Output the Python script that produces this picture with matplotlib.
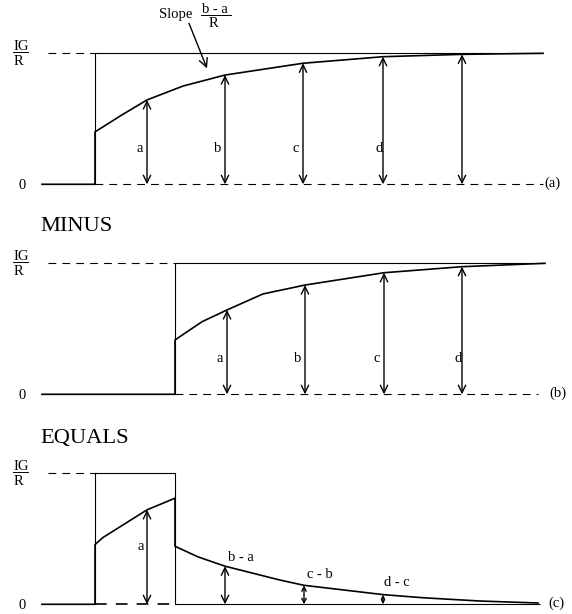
import matplotlib
matplotlib.use("Agg")
import matplotlib.pyplot as plt
from matplotlib.lines import Line2D

plt.rcParams['font.family'] = ['Liberation Serif', 'DejaVu Serif']

W, H, DPI = 572, 614, 100

# ---------------------------------------------------------------- data
# time axis (arbitrary units), shared by the three panels
T_END = 50.1
STEP_A = 5.3      # switch-on of the first response
STEP_B = 13.3     # switch-on of the delayed response
T_TOP_DASH = 0.6  # where the dashed IG/R guide starts

# (a) response to a step applied at STEP_A
a_t = [0.0, 5.3, 5.3, 8.0, 10.5, 14.1, 18.3, 26.1, 34.1, 42.0, 50.1]
a_v = [0.0, 0.0, 0.40, 0.53, 0.644, 0.75, 0.834, 0.924, 0.974, 0.992, 1.0]
a_arrow_t = [10.5, 18.3, 26.1, 34.1, 42.0]
a_arrow_v = [0.644, 0.834, 0.924, 0.974, 0.992]
a_arrow_lbl = ['a', 'b', 'c', 'd', '']

# (b) the same response, delayed to STEP_B
b_t = [0.0, 13.3, 13.3, 16.0, 18.5, 22.1, 26.3, 34.2, 42.0, 50.3]
b_v = [0.0, 0.0, 0.415, 0.554, 0.644, 0.766, 0.834, 0.928, 0.974, 1.0]
b_arrow_t = [18.5, 26.3, 34.2, 42.0]
b_arrow_v = [0.644, 0.834, 0.928, 0.974]
b_arrow_lbl = ['a', 'b', 'c', 'd']

# (c) difference (a) - (b)
c_t = [0.0, 5.3, 5.3, 6.1, 10.5, 13.3, 13.3, 15.6, 18.3, 23.8, 26.2, 34.1,
       38.1, 43.8, 49.6]
c_v = [0.0, 0.0, 0.456, 0.51, 0.721, 0.81, 0.443, 0.362, 0.291, 0.185,
       0.145, 0.074, 0.05, 0.025, 0.01]
c_arrow_t = [10.5, 18.3, 26.2, 34.1]
c_arrow_v = [0.721, 0.291, 0.145, 0.074]
c_arrow_lbl = ['a', 'b - a', 'c - b', 'd - c']

# ---------------------------------------------------------------- layout
X0_PX, PX_PER_T = 42.0, 10.0
# (zero level, IG/R level) rows in pixels from the top
ROW_A = (184.3, 53.3)
ROW_B = (394.3, 263.3)
ROW_C = (604.3, 473.3)

LW_THIN, LW_CURVE, LW_ARROW = 0.8, 1.2, 1.0
DASH = (0, (7.0, 5.5))
FS = 10.5
FS_BIG = 16.2

fig = plt.figure(figsize=(W / DPI, H / DPI), dpi=DPI)


def fx(x):
    return x / W


def fy(y):
    return 1 - y / H


def px2pt(p):
    return p * 72.0 / DPI


def panel_axes(row):
    zero_px, one_px = row
    s = zero_px - one_px
    ax = fig.add_axes([0, 0, 1, 1])
    ax.set_xlim(-X0_PX / PX_PER_T, (W - X0_PX) / PX_PER_T)
    ax.set_ylim((zero_px - H) / s, zero_px / s)
    ax.axis('off')
    ax.patch.set_alpha(0)
    return ax


def hline(ax, t0, t1, v, dashed=False, lw=LW_THIN):
    ax.plot([t0, t1], [v, v], color='k', lw=lw,
            ls=DASH if dashed else '-', solid_capstyle='butt')


def vline(ax, t, v0, v1):
    ax.plot([t, t], [v0, v1], color='k', lw=LW_THIN)


def arrow(ax, t, v, scale=12):
    ax.annotate('', xy=(t, v), xytext=(t, 0),
                arrowprops=dict(arrowstyle='<->, head_length=0.45, head_width=0.22',
                                lw=LW_ARROW, color='k', shrinkA=0, shrinkB=0,
                                mutation_scale=scale))


def note(ax, s, t, v, dx=0.0, dy=0.0, ha='center', size=FS):
    ax.annotate(s, xy=(t, v), xytext=(px2pt(dx), px2pt(dy)),
                textcoords='offset points', ha=ha, va='baseline', fontsize=size)


def level_labels(row):
    zero_px, one_px = row
    fig.text(fx(13), fy(one_px - 3.5), 'IG', ha='left', va='baseline', fontsize=FS)
    fig.add_artist(Line2D([fx(13), fx(28.3)], [fy(one_px - 1.3)] * 2,
                          color='k', lw=0.7, transform=fig.transFigure))
    fig.text(fx(13.3), fy(one_px + 12), 'R', ha='left', va='baseline', fontsize=FS)
    fig.text(fx(21.7), fy(zero_px + 4.8), '0', ha='center', va='baseline', fontsize=FS)


# ---------------------------------------------------------------- panel (a)
ax = panel_axes(ROW_A)
hline(ax, STEP_A, T_END, 0, dashed=True)
hline(ax, T_TOP_DASH, STEP_A, 1, dashed=True)
hline(ax, STEP_A, T_END, 1)
vline(ax, STEP_A, 0, 1)
ax.plot(a_t, a_v, color='k', lw=LW_CURVE)
for t, v, lbl, dx in zip(a_arrow_t, a_arrow_v, a_arrow_lbl, [-4, -4, -4, 0, 0]):
    arrow(ax, t, v)
    if lbl:
        note(ax, lbl, t, 0.25, dx=dx, ha='right')
note(ax, '(a)', T_END, 0, dx=1.5, dy=-2.6, ha='left')
ax.annotate('', xy=(16.5, 0.885), xytext=(14.7, 1.229),
            arrowprops=dict(arrowstyle='->, head_length=0.5, head_width=0.25',
                            lw=LW_ARROW, color='k', shrinkA=0, shrinkB=0,
                            mutation_scale=12))
level_labels(ROW_A)

fig.text(fx(159.3), fy(18.3), 'Slope', ha='left', va='baseline', fontsize=FS)
fig.text(fx(215.3), fy(13.3), 'b - a', ha='center', va='baseline', fontsize=FS)
fig.add_artist(Line2D([fx(200.5), fx(230.7)], [fy(14.6)] * 2,
                      color='k', lw=0.7, transform=fig.transFigure))
fig.text(fx(213), fy(26.7), 'R', ha='center', va='baseline', fontsize=FS)

# ---------------------------------------------------------------- panel (b)
fig.text(fx(40.7), fy(230.7), 'MINUS', ha='left', va='baseline', fontsize=FS_BIG)
ax = panel_axes(ROW_B)
hline(ax, STEP_B, 49.6, 0, dashed=True)
hline(ax, T_TOP_DASH, STEP_B, 1, dashed=True)
hline(ax, STEP_B, 50.3, 1)
vline(ax, STEP_B, 0, 1)
ax.plot(b_t, b_v, color='k', lw=LW_CURVE)
for t, v, lbl, dx in zip(b_arrow_t, b_arrow_v, b_arrow_lbl, [-4, -3.5, -4, 0]):
    arrow(ax, t, v)
    note(ax, lbl, t, 0.25, dx=dx, ha='right')
note(ax, '(b)', 50.7, 0, dy=-3.0, ha='left')
level_labels(ROW_B)

# ---------------------------------------------------------------- panel (c)
fig.text(fx(40.7), fy(443.5), 'EQUALS', ha='left', va='baseline', fontsize=FS_BIG)
ax = panel_axes(ROW_C)
hline(ax, STEP_A, STEP_B, 0, dashed=True, lw=LW_CURVE)
hline(ax, STEP_B, 49.8, 0)
hline(ax, T_TOP_DASH, STEP_A, 1, dashed=True)
hline(ax, STEP_A, STEP_B, 1)
vline(ax, STEP_A, 0, 1)
vline(ax, STEP_B, 0, 1)
ax.plot(c_t, c_v, color='k', lw=LW_CURVE)
c_scale = [12, 12, 7, 5]
c_off = [(-3, 0), (16, 5), (16, 7.7), (14, 8.3)]
for i, (t, v, lbl) in enumerate(zip(c_arrow_t, c_arrow_v, c_arrow_lbl)):
    arrow(ax, t, v, scale=c_scale[i])
    if i == 0:
        note(ax, lbl, t, 0.418, dx=c_off[i][0], ha='right')
    else:
        note(ax, lbl, t, v, dx=c_off[i][0], dy=c_off[i][1])
note(ax, '(c)', 50.6, 0, dy=-2.6, ha='left')
level_labels(ROW_C)

fig.savefig('out.png', dpi=DPI)
